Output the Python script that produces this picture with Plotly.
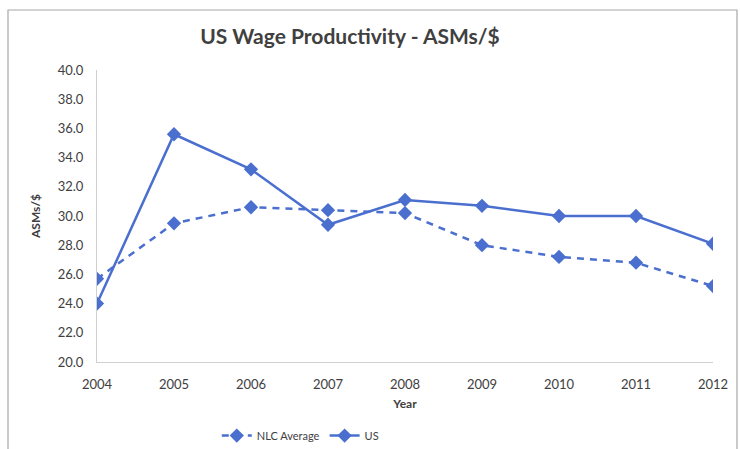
import plotly.graph_objects as go

years = [2004, 2005, 2006, 2007, 2008, 2009, 2010, 2011, 2012]
nlc_average = [25.7, 29.5, 30.6, 30.4, 30.2, 28.0, 27.2, 26.8, 25.2]
us = [24.0, 35.6, 33.2, 29.4, 31.1, 30.7, 30.0, 30.0, 28.1]
y_ticks = [20, 22, 24, 26, 28, 30, 32, 34, 36, 38, 40]

blue = '#4a6fcf'
font = 'Lato'

fig = go.Figure()
fig.add_trace(go.Scatter(x=years, y=nlc_average, name='NLC Average', mode='lines+markers',
                         line=dict(color=blue, width=2.5, dash='7px,6px'),
                         marker=dict(symbol='diamond', size=11, color=blue)))
fig.add_trace(go.Scatter(x=years, y=us, name='US', mode='lines+markers',
                         line=dict(color=blue, width=2.5),
                         marker=dict(symbol='diamond', size=11, color=blue)))

# chart frame (approx pixel box 8..737 x 10..449 converted to paper units)
pw, ph = 616, 292
fig.add_shape(type='rect', xref='paper', yref='paper',
              x0=(8 - 97) / pw, x1=(737 - 97) / pw, y0=(362 - 452) / ph, y1=(362 - 10) / ph,
              line=dict(color='#a8a8a8', width=1.2), fillcolor='rgba(0,0,0,0)', layer='below')

fig.update_layout(
    width=740, height=449,
    margin=dict(l=97, r=27, t=70, b=87, autoexpand=False),
    paper_bgcolor='white', plot_bgcolor='white',
    font=dict(family=font, color='#404040', size=12),
    title=dict(text='<b>US Wage Productivity - ASMs/$</b>', x=0.473, xanchor='center',
               y=0.918, yanchor='middle', font=dict(size=21, color='#404040', family=font)),
    showlegend=True,
    legend=dict(orientation='h', x=0.33, xanchor='center', yref='container', y=0.03, yanchor='middle',
                font=dict(size=11, color='#404040'), itemwidth=30),
)
fig.update_xaxes(range=[2004, 2012], tickvals=years, showgrid=False, zeroline=False, automargin=False,
                 showline=True, linecolor='#d0d0d0', linewidth=1,
                 ticks='outside', ticklen=10, tickcolor='rgba(0,0,0,0)',
                 tickfont=dict(size=13), title=dict(text='<b>Year</b>', font=dict(size=12), standoff=9))
fig.update_yaxes(range=[20, 40], tickvals=y_ticks, tickformat='.1f', showgrid=False, zeroline=False,
                 automargin=False, showline=True, linecolor='#d0d0d0', linewidth=1,
                 ticks='outside', ticklen=10, tickcolor='rgba(0,0,0,0)',
                 tickfont=dict(size=13), title=dict(text='<b>ASMs/$</b>', font=dict(size=12), standoff=14))

# drop the browser's default 8px body margin so the figure sits at the window origin
fig.write_html('out.html', config={'displayModeBar': False},
               post_script="document.body.style.margin='0';document.body.style.overflow='hidden';")
